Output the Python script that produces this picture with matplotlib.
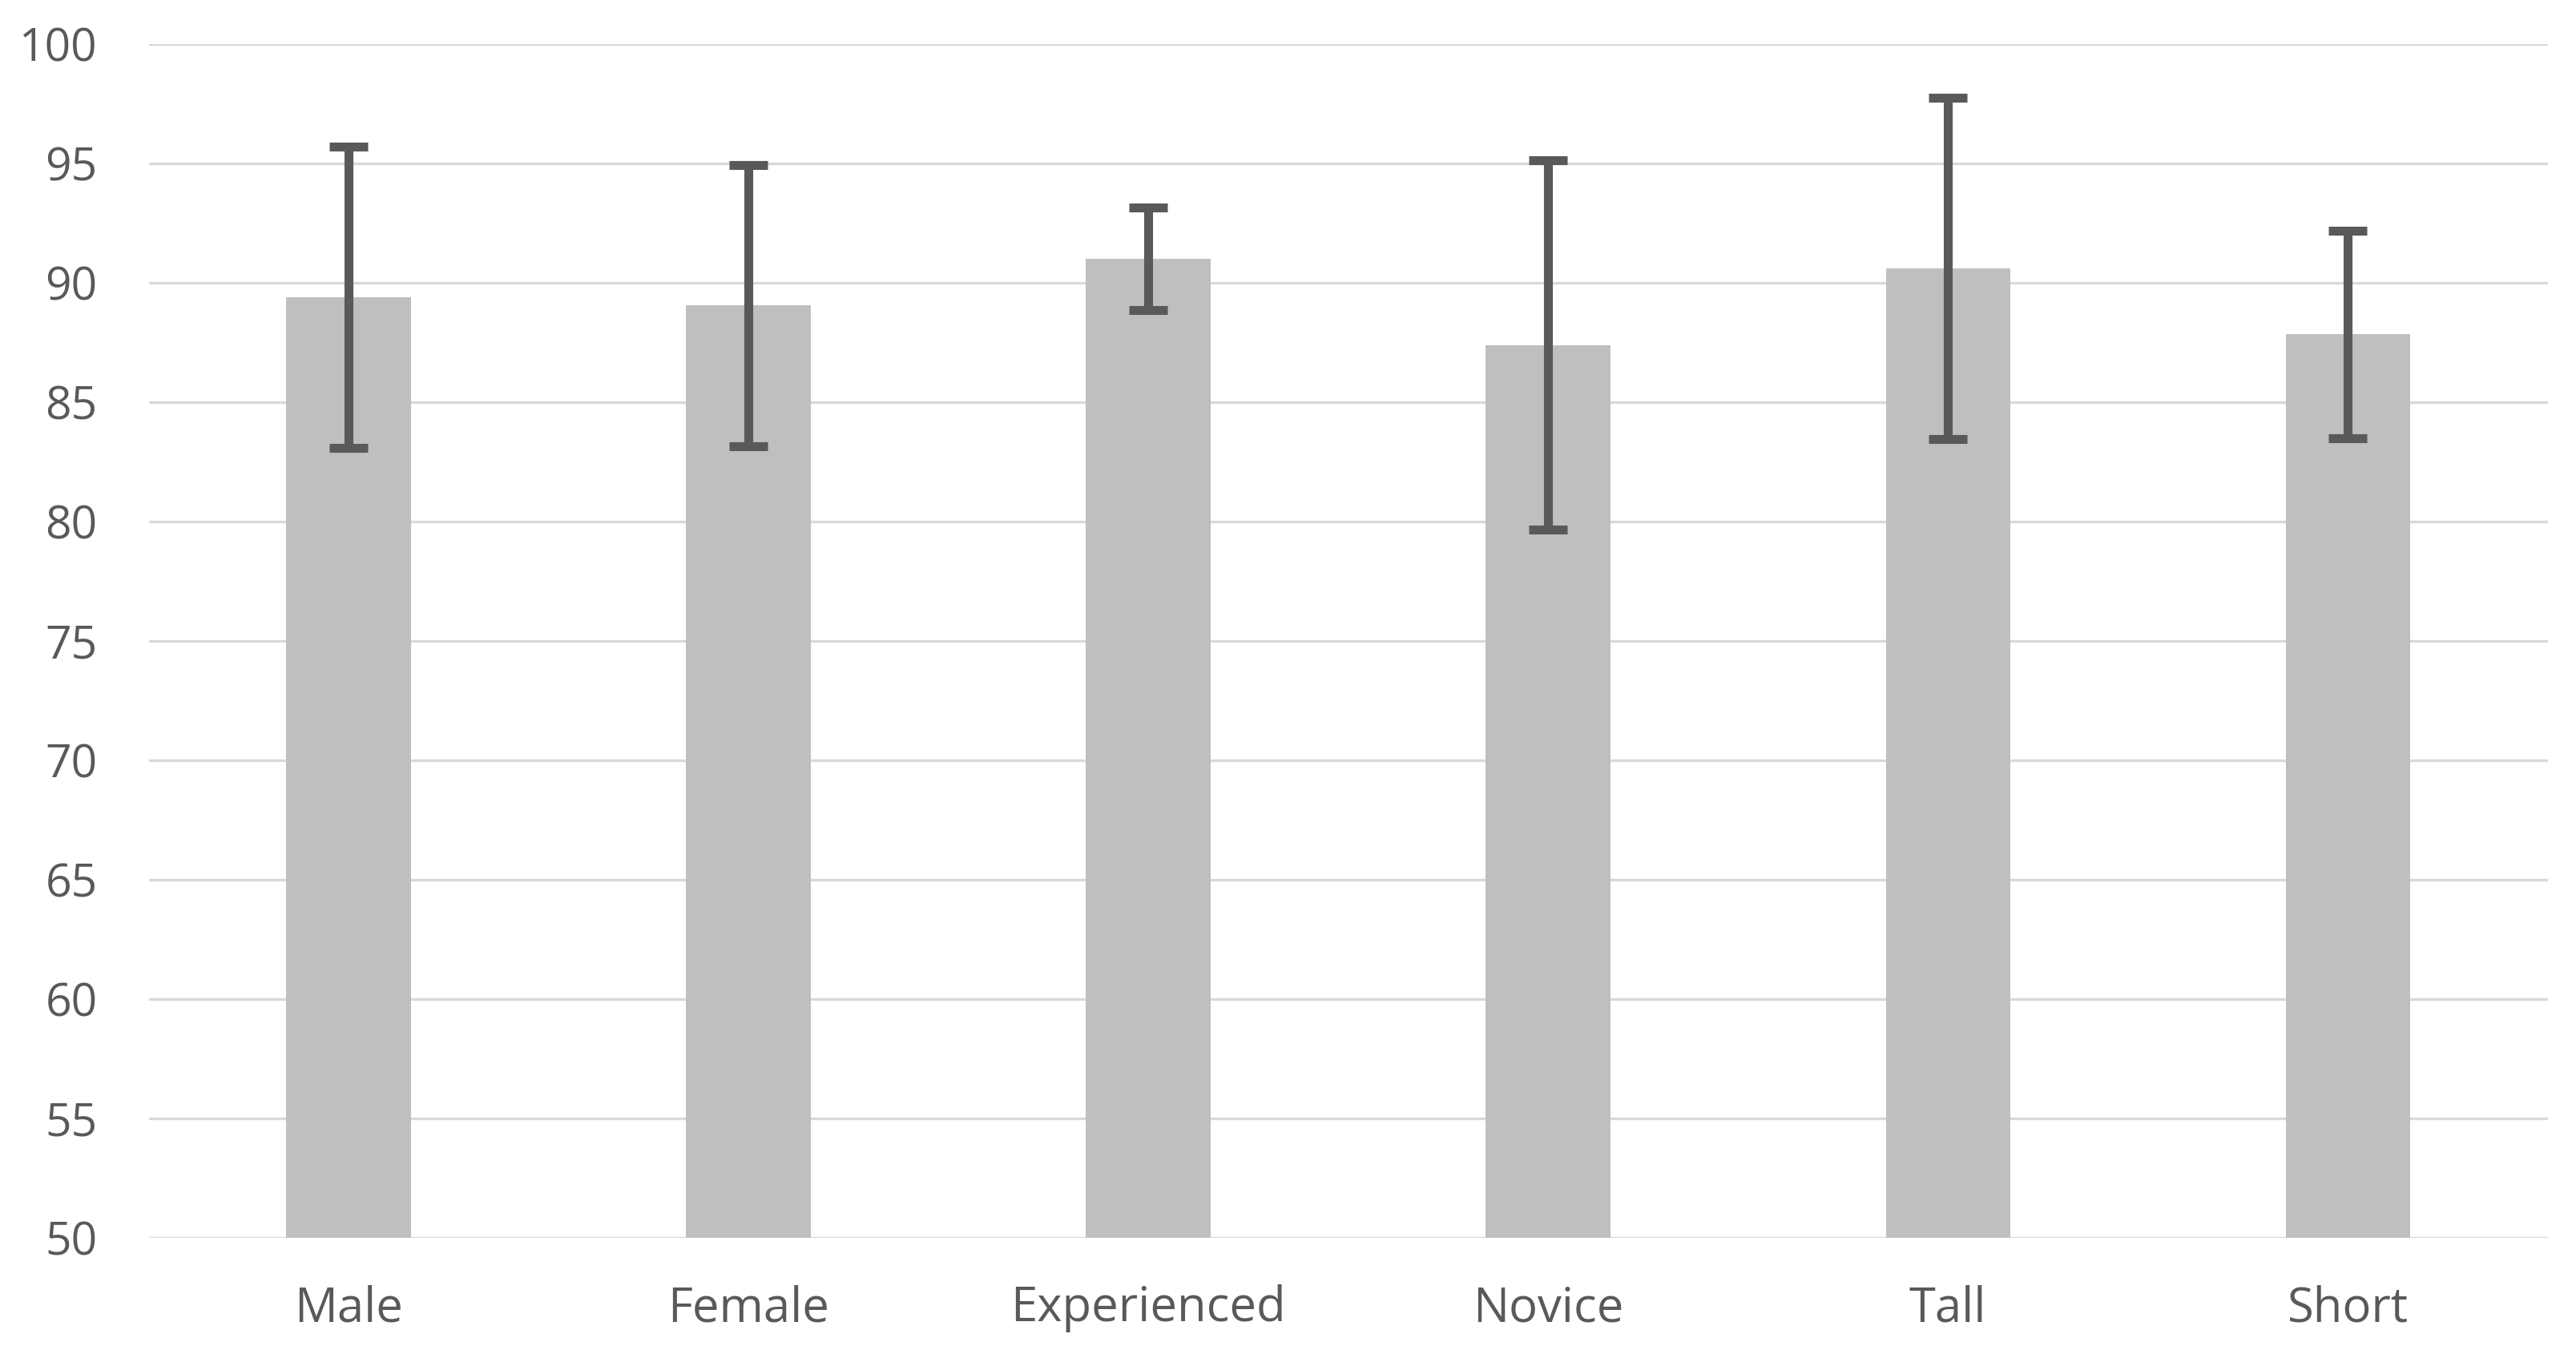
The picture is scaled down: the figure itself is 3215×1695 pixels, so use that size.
import numpy as np
import matplotlib.pyplot as plt

# values
groups = ['Male', 'Female', 'Experienced', 'Novice', 'Tall', 'Short']
means = [89.4, 89.05, 91.0, 87.4, 90.6, 87.85]
errs = [6.3, 5.9, 2.15, 7.75, 7.15, 4.35]
y_ticks = list(range(50, 101, 5))

plt.rcParams['font.family'] = ['Open Sans', 'DejaVu Sans']

fig = plt.figure(figsize=(32.15, 16.95), dpi=100)
ax = fig.add_axes([0.0577, 0.0885, 0.9313, 0.879])

x = np.arange(len(groups))
ax.bar(x, means, width=0.311, color='#BFBFBF', zorder=2)
ax.errorbar(x, means, yerr=errs, fmt='none', ecolor='#595959',
            elinewidth=8, capsize=17, capthick=8, zorder=3)

ax.set_xlim(-0.5, len(groups) - 0.5)
ax.set_ylim(50, 100)
ax.set_yticks(y_ticks)
ax.set_xticks(x)
ax.set_xticklabels(groups)

# grid like excel
ax.yaxis.grid(True, color='#D9D9D9', linewidth=2.4, zorder=0)
ax.set_axisbelow(True)
for s in ax.spines.values():
    s.set_visible(False)

ax.tick_params(axis='both', length=0, labelcolor='#595959')
ax.tick_params(axis='y', pad=46, labelsize=41)
ax.tick_params(axis='x', pad=42, labelsize=43)

fig.savefig('out.png', dpi=100, facecolor='white')
